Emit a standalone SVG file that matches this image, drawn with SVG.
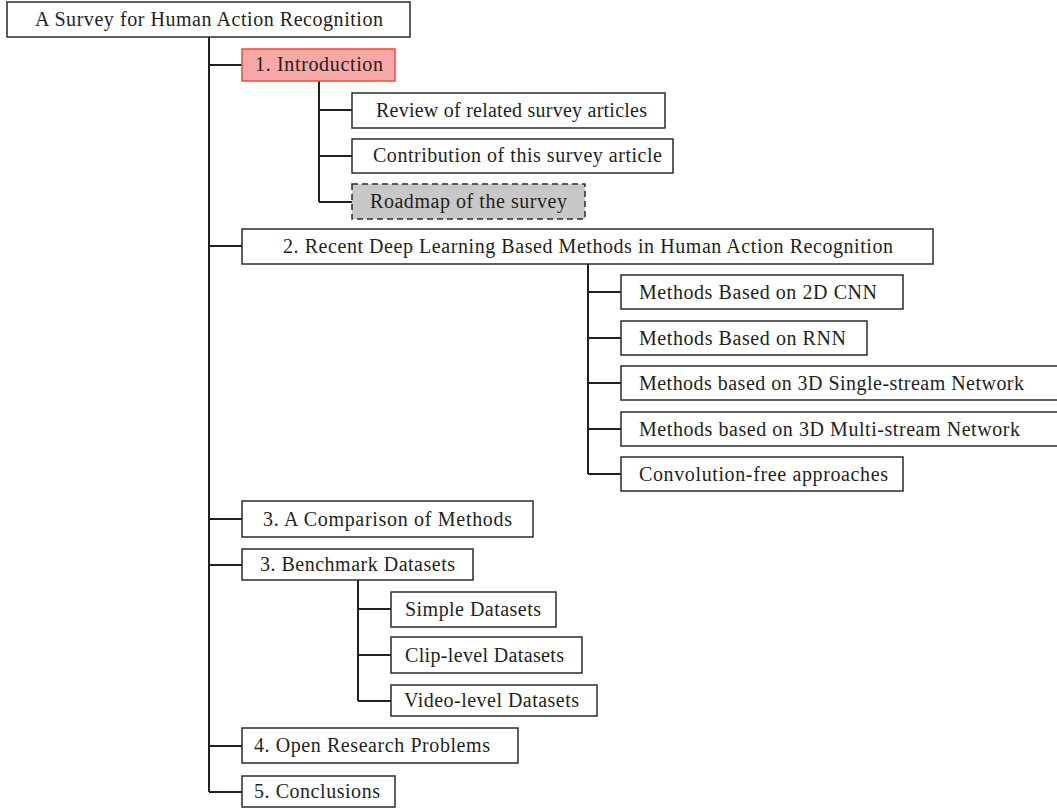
<svg xmlns="http://www.w3.org/2000/svg" width="1057" height="808" viewBox="0 0 1057 808">
<style>
.box{fill:#fff;stroke:#2b2b2b;stroke-width:1.5}
.intro{fill:#f8a8a8;stroke:#ee4b3a;stroke-width:1.5}
.dash{fill:#c8c8c8;stroke:#2b2b2b;stroke-width:1.5;stroke-dasharray:6,4}
text{font-family:"Liberation Serif","Times New Roman",serif;font-size:20px;fill:#231f20}
#connectors path{fill:none;stroke:#231f20;stroke-width:2}
</style>
<rect width="1057" height="808" fill="#fff"/>
<g id="connectors">
<path d="M209 37V792M209 65H242M209 246H242M209 519H242M209 565H242M209 746H242M209 792H242"/>
<path d="M319 81V202M319 110H352M319 156H352M319 202H352"/>
<path d="M588 264V474M588 292H621M588 338H621M588 383H621M588 429H621M588 474H621"/>
<path d="M358 580V701M358 609H391M358 655H391M358 701H391"/>
</g>
<g id="root"><rect class="box" x="7" y="2" width="403" height="35"/><text x="35" y="26" textLength="348">A Survey for Human Action Recognition</text></g>
<g id="intro"><rect class="intro" x="242" y="49" width="153" height="32"/><text x="255" y="71" textLength="128">1. Introduction</text></g>
<g id="review"><rect class="box" x="352" y="93" width="313" height="35"/><text x="376" y="117" textLength="271">Review of related survey articles</text></g>
<g id="contribution"><rect class="box" x="352" y="139" width="321" height="34"/><text x="373" y="162" textLength="289">Contribution of this survey article</text></g>
<g id="roadmap"><rect class="dash" x="352" y="184" width="233" height="35"/><text x="370" y="208" textLength="197">Roadmap of the survey</text></g>
<g id="methods"><rect class="box" x="242" y="229" width="691" height="35"/><text x="283" y="253" textLength="610">2. Recent Deep Learning Based Methods in Human Action Recognition</text></g>
<g id="cnn2d"><rect class="box" x="621" y="275" width="282" height="34"/><text x="639" y="299" textLength="238">Methods Based on 2D CNN</text></g>
<g id="rnn"><rect class="box" x="621" y="321" width="246" height="34"/><text x="639" y="345" textLength="207">Methods Based on RNN</text></g>
<g id="single"><rect class="box" x="621" y="366" width="440" height="34"/><text x="639" y="390" textLength="385">Methods based on 3D Single-stream Network</text></g>
<g id="multi"><rect class="box" x="621" y="412" width="440" height="34"/><text x="639" y="436" textLength="381">Methods based on 3D Multi-stream Network</text></g>
<g id="convfree"><rect class="box" x="621" y="457" width="282" height="34"/><text x="639" y="481" textLength="249">Convolution-free approaches</text></g>
<g id="comparison"><rect class="box" x="242" y="501" width="291" height="36"/><text x="263" y="526" textLength="249">3. A Comparison of Methods</text></g>
<g id="benchmark"><rect class="box" x="242" y="549" width="231" height="31"/><text x="260" y="571" textLength="195">3. Benchmark Datasets</text></g>
<g id="simple"><rect class="box" x="391" y="592" width="165" height="35"/><text x="405" y="616" textLength="136">Simple Datasets</text></g>
<g id="clip"><rect class="box" x="391" y="637" width="191" height="36"/><text x="405" y="662" textLength="159">Clip-level Datasets</text></g>
<g id="video"><rect class="box" x="391" y="685" width="206" height="31"/><text x="404" y="707" textLength="175">Video-level Datasets</text></g>
<g id="open"><rect class="box" x="242" y="728" width="276" height="35"/><text x="254" y="752" textLength="236">4. Open Research Problems</text></g>
<g id="conclusions"><rect class="box" x="242" y="776" width="153" height="31"/><text x="254" y="798" textLength="126">5. Conclusions</text></g>
</svg>
